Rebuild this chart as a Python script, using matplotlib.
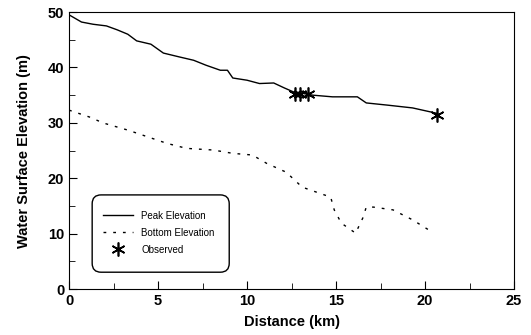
import matplotlib.pyplot as plt
from matplotlib.patches import FancyBboxPatch
import numpy as np

plt.rcParams['font.family'] = ['Liberation Sans', 'DejaVu Sans']

# peak water surface elevation along the reach
peak_km = [0.0, 0.7, 1.35, 2.1, 2.7, 3.3, 3.8, 4.6, 5.3, 6.2, 7.0, 7.7, 8.5, 8.9,
           9.2, 10.0, 10.7, 11.5, 12.1, 12.6, 13.7, 14.8, 16.2, 16.7, 17.9, 19.3, 20.7]
peak_m = [49.5, 48.2, 47.8, 47.5, 46.8, 46.0, 44.8, 44.2, 42.6, 41.9, 41.3, 40.4, 39.5, 39.5,
          38.1, 37.7, 37.1, 37.2, 36.3, 35.6, 35.0, 34.7, 34.7, 33.6, 33.2, 32.7, 31.7]

# bed (bottom) elevation
bottom_km = [0.0, 1.2, 1.9, 3.3, 4.4, 5.5, 6.6, 8.1, 9.2, 10.3, 11.1, 12.2, 13.1, 14.7,
             14.9, 15.3, 16.1, 16.5, 16.7, 17.1, 18.2, 19.3, 20.4]
bottom_m = [32.3, 31.0, 30.0, 28.7, 27.5, 26.3, 25.4, 25.1, 24.5, 24.2, 22.7, 21.1, 18.4, 16.6,
            14.3, 11.9, 10.1, 12.8, 14.8, 14.8, 14.3, 12.5, 10.3]

# observed high water marks
obs_km = [12.7, 13.0, 13.4, 20.7]
obs_m = [35.3, 35.3, 35.3, 31.5]

fig = plt.figure(figsize=(5.31, 3.35), dpi=100)
ax = fig.add_axes([0.130, 0.137, 0.838, 0.827])

ax.plot(peak_km, peak_m, color='black', lw=1.0, label='Peak Elevation')
ax.plot(bottom_km, bottom_m, color='black', lw=1.0, linestyle=(0, (2, 5)), label='Bottom Elevation')
ax.plot(obs_km, obs_m, linestyle='none', marker=(6, 2, 0), markersize=10, color='black',
        markeredgewidth=1.2, label='Observed')

ax.set_xlim(0, 25)
ax.set_ylim(0, 50)
ax.set_xticks([0, 5, 10, 15, 20, 25])
ax.set_xticks([2.5, 7.5, 12.5, 17.5, 22.5], minor=True)
ax.set_yticks([0, 10, 20, 30, 40, 50])
ax.set_yticks([5, 15, 25, 35, 45], minor=True)
ax.tick_params(which='both', direction='in', labelsize=10.5)
ax.tick_params(which='major', length=6)
ax.tick_params(which='minor', length=4)

ax.set_xlabel('Distance (km)', fontsize=10.5, fontweight='bold', labelpad=5)
ax.set_ylabel('Water Surface Elevation (m)', fontsize=10.5, fontweight='bold', labelpad=12)
for lab in ax.get_xticklabels() + ax.get_yticklabels():
    lab.set_fontweight('bold')

# rounded legend frame
frame = FancyBboxPatch((0.052, 0.061), 0.308, 0.279, transform=ax.transAxes,
                       boxstyle='round,pad=0,rounding_size=0.02', mutation_aspect=445 / 277,
                       facecolor='white', edgecolor='black', lw=1.0, zorder=4)
ax.add_patch(frame)

leg = ax.legend(loc='upper left', bbox_to_anchor=(0.066, 0.30), frameon=False,
                fontsize=7, borderpad=0, handlelength=3.1, handletextpad=0.8,
                labelspacing=0.72)
leg.set_zorder(5)

fig.savefig('out.png', dpi=100)
